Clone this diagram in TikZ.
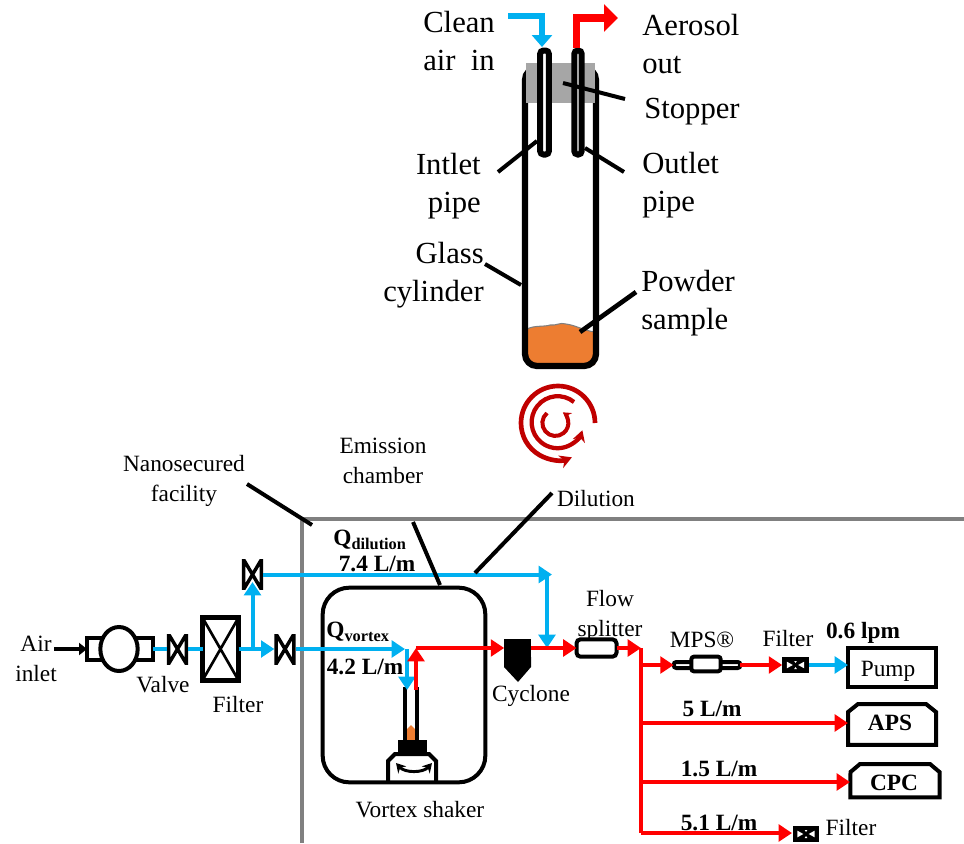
\documentclass[tikz,border=0pt]{standalone}
\usepackage{fontspec}
\setmainfont{Liberation Serif}
\usepackage{tikz}
\usetikzlibrary{arrows.meta,shapes.geometric}
\definecolor{airBlue}{HTML}{00B0F0}
\definecolor{aerosolRed}{HTML}{FF0000}
\definecolor{swirlRed}{HTML}{C00000}
\definecolor{powderOrange}{HTML}{ED7D31}
\definecolor{stopperGray}{HTML}{A6A6A6}
\tikzset{
  biglabel/.style={font=\fontsize{23}{29}\selectfont, align=center, inner sep=0pt},
  smalllabel/.style={font=\fontsize{17.5}{22.5}\selectfont, align=center, inner sep=0pt},
  boldlabel/.style={font=\fontsize{17.5}{22}\selectfont\bfseries, inner sep=0pt},
  leader/.style={draw=black, line width=3pt},
  airflow/.style={draw=airBlue, line width=3pt, -{Triangle[length=10pt,width=12.5pt]}},
  redflow/.style={draw=aerosolRed, line width=3pt, -{Triangle[length=10pt,width=12.5pt]}},
  box/.style={draw, line width=3pt, inner sep=0pt, outer sep=0pt},
  pipebox/.style={box, fill=white, line width=4.5pt, rounded corners=2.5pt, minimum height=78pt},
  valvebox/.style={inner sep=0pt, outer sep=0pt, minimum width=16pt, minimum height=22.5pt,
    path picture={\draw[shift={(path picture bounding box.center)}, line width=2.6pt]
      (-6.7pt,-11.25pt) -- (6.7pt,11.25pt) -- (6.7pt,-11.25pt) -- (-6.7pt,11.25pt) -- cycle;}},
  filterbox/.style={box, line width=3.5pt, minimum width=27pt, minimum height=47pt,
    path picture={\draw[line width=2pt] (path picture bounding box.south west) -- (path picture bounding box.north east)
      (path picture bounding box.north west) -- (path picture bounding box.south east);}},
  smallfilter/.style={fill=black, inner sep=0pt, outer sep=0pt, minimum width=20pt, minimum height=12.5pt,
    path picture={\fill[white, shift={(path picture bounding box.center)}]
      (-6.5pt,-2.5pt) -- (-2pt,0pt) -- (-6.5pt,2.5pt) -- cycle
      (6.5pt,-2.5pt) -- (2pt,0pt) -- (6.5pt,2.5pt) -- cycle
      (-1pt,3pt) -- (1pt,3pt) -- (0pt,1.5pt) -- cycle
      (-1pt,-3pt) -- (1pt,-3pt) -- (0pt,-1.5pt) -- cycle;}},
}

\begin{document}
\begin{tikzpicture}[x=0.75pt, y=-0.75pt]
  \useasboundingbox (0,0) rectangle (964,843);

  % vial, large view
  \fill[powderOrange] (527,329) .. controls (535,325) and (545,327) .. (550,325)
    .. controls (556,326) and (560,322) .. (566,324) .. controls (575,325) and (585,331) .. (595,332)
    -- (595,365) -- (527,365) -- cycle;
  \draw[gray, line width=0.8pt] (527,329) .. controls (535,325) and (545,327) .. (550,325)
    .. controls (556,326) and (560,322) .. (566,324) .. controls (575,325) and (585,331) .. (595,332);
  \draw[line width=4.7pt, rounded corners=9pt] (525,68) rectangle (596,366);
  \fill[stopperGray] (526,63) rectangle (595,103);
  \node[pipebox, minimum width=6.5pt] (inpipe) at (544.5,102.5) {};
  \node[pipebox, minimum width=5.5pt] (outpipe) at (578,102.5) {};

  \coordinate (airstart) at (508,16);
  \coordinate (aircorner) at (542,16);
  \coordinate (pipein) at (542,47);
  \draw[draw=airBlue, line width=4.5pt, -{Triangle[length=9pt,width=15pt]}] (airstart) -- (aircorner) -- (pipein);
  \coordinate (pipeout) at (576.5,48);
  \coordinate (outcorner) at (576.5,18);
  \coordinate (outend) at (618,18);
  \draw[draw=aerosolRed, line width=5.5pt, -{Triangle[length=10.5pt,width=20pt]}] (pipeout) -- (outcorner) -- (outend);

  \node[biglabel, align=left, anchor=west] (cleanair) at (423,41) {Clean\\air\ \ in};
  \node[biglabel, align=left, anchor=west] (aerosol) at (642,44) {Aerosol\\out};
  \node[biglabel] (stopper) at (692,112) {Stopper};
  \node[biglabel, align=right, anchor=east] (inlabel) at (481,186) {Intlet\\pipe};
  \node[biglabel, align=left, anchor=west] (outlabel) at (642,185) {Outlet\\pipe};
  \node[biglabel, align=right, anchor=east] (glass) at (484,275) {Glass\\cylinder};
  \node[biglabel, align=left, anchor=west] (powder) at (641,303) {Powder\\sample};

  \coordinate (stopA) at (563,83);
  \coordinate (stopB) at (625,99);
  \draw[leader] (stopA) -- (stopB);
  \coordinate (inA) at (537,141);
  \coordinate (inB) at (498,172);
  \draw[leader] (inA) -- (inB);
  \coordinate (outA) at (585,148);
  \coordinate (outB) at (624,172);
  \draw[leader] (outA) -- (outB);
  \coordinate (glassA) at (485,264);
  \coordinate (glassB) at (521,285);
  \draw[leader] (glassA) -- (glassB);
  \coordinate (powderA) at (636,292);
  \coordinate (powderB) at (580,332);
  \draw[leader, line width=3.5pt] (powderA) -- (powderB);

  % swirl
  \draw[swirlRed, line width=3.5pt, -{Stealth[length=9pt,width=10pt]}] (595,423) arc (0:-292:37);
  \draw[swirlRed, line width=3.2pt, -{Stealth[length=8.5pt,width=9.5pt]}] (574,402) arc (-51:-342:26);
  \draw[swirlRed, line width=3pt, -{Stealth[length=6pt,width=7pt]}] (547,413) arc (-130:-415:13);

  % facility outline
  \coordinate (wallBottom) at (302,843);
  \coordinate (wallCorner) at (302,519);
  \coordinate (wallEnd) at (964,519);
  \draw[gray, line width=2.5pt] (wallBottom) -- (wallCorner) -- (wallEnd);

  % bench components
  \node[box, minimum width=49.5pt, minimum height=17pt] (blowerbody) at (120,649) {};
  \node[box, ellipse, fill=white, minimum width=28pt, minimum height=33pt] (blower) at (119,649) {};
  \node[valvebox] (valveA) at (177.5,649) {};
  \node[filterbox] (mainfilter) at (220.5,649) {};
  \node[valvebox] (valveB) at (252.5,574.5) {};
  \node[valvebox] (valveC) at (285,649) {};
  \node[box, rounded corners=20pt, minimum width=122pt, minimum height=146pt] (chamber) at (404,685) {};
  \node[fill=black, inner sep=0pt, outer sep=0pt, minimum width=20pt, minimum height=13.5pt] (cyclone) at (517.5,648) {};
  \fill (504,657) -- (504,667) -- (518,682) -- (531,667) -- (531,657) -- cycle;
  \node[box, rounded corners=3pt, minimum width=30pt, minimum height=13pt] (splitter) at (596.5,648) {};
  \node[box, fill=white, rounded corners=2pt, line width=3pt, minimum width=50pt, minimum height=4.5pt] (mpstube) at (707,665) {};
  \node[box, fill=white, rounded corners=2pt, minimum width=22pt, minimum height=11pt,
    path picture={\fill[shift={(path picture bounding box.center)}] (-2pt,-6pt) rectangle (2pt,-1.5pt) (-2pt,1.5pt) rectangle (2pt,6pt);}] (mpsbody) at (706,664) {};
  \node[smallfilter] (pumpfilter) at (795.5,665) {};
  \node[box, minimum width=66pt, minimum height=29pt] (pump) at (892,667.5) {};
  \node[smallfilter] (endfilter) at (806,834) {};
  \node[inner sep=0pt, outer sep=0pt, minimum width=66pt, minimum height=32pt] (aps) at (892,723.5) {};
  \draw[line width=3pt] (aps.south west) -- (848,712) -- (858,704) -- (926,704) -- (936,712) -- (aps.south east) -- cycle;
  \node[inner sep=0pt, outer sep=0pt, minimum width=67pt, minimum height=26pt] (cpc) at (895,780) {};
  \draw[line width=3pt] (cpc.south west) -- (850.5,772) -- (860,764) -- (930,764) -- (939.5,772) -- (cpc.south east) -- cycle;

  % small vial on the shaker
  \fill[powderOrange] (407,740) -- (407,729) -- (411,725) -- (415,729) -- (415,740) -- cycle;
  \draw[line width=2.3pt] (405,742) -- (405,687) (417,687) -- (417,742);
  \fill (398,740) rectangle (427,753);
  \draw[line width=3pt] (388,783) -- (388,761) -- (395,754) -- (429,754) -- (436,761) -- (436,783);
  \draw[line width=2.2pt, {Stealth[length=7pt,width=8pt]}-{Stealth[length=7pt,width=8pt]}] (396,763) .. controls (405,773) and (423,773) .. (432,763);

  % junctions
  \coordinate (teeA) at (252.5,649);
  \coordinate (valveBtip) at (252.5,582);
  \coordinate (vortexTee) at (407,649);
  \coordinate (vialIn) at (407,690);
  \coordinate (vialOut) at (416,690);
  \coordinate (redCorner) at (416,648);
  \coordinate (diluteCorner) at (547,574.5);
  \coordinate (diluteIn) at (547,648);
  \coordinate (manifoldTop) at (641,648);
  \coordinate (branchA) at (641,665);
  \coordinate (branchB) at (641,723);
  \coordinate (branchC) at (641,782);
  \coordinate (branchD) at (641,833);
  \coordinate (apsIn) at (848,723);
  \coordinate (cpcIn) at (850,782);
  \coordinate (diluteTip) at (552,574.5);
  \coordinate (vortexTip) at (405,649);
  \coordinate (airin) at (54,649);
  \coordinate (endIn) at (792,833);

  % flows
  \draw[black, line width=3pt, -{Triangle[length=6pt,width=9pt]}] (airin) -- (blowerbody.west);
  \draw[draw=airBlue, line width=3pt] (blowerbody.east) -- (valveA.west);
  \draw[draw=airBlue, line width=3pt] (valveA.east) -- (mainfilter.west);
  \draw[airflow] (mainfilter.east) -- (valveC.west);
  \draw[airflow] (teeA) -- (valveBtip);
  \draw[airflow] (valveB.east) -- (diluteTip);
  \draw[airflow] (diluteCorner) -- (diluteIn);
  \draw[airflow] (valveC.east) -- (vortexTip);
  \draw[airflow] (vortexTee) -- (vialIn);
  \draw[redflow] (vialOut) -- (redCorner);
  \draw[redflow] (redCorner) -- (cyclone.west);
  \draw[redflow] (cyclone.east) -- (splitter.west);
  \draw[redflow] (splitter.east) -- (manifoldTop);
  \draw[draw=aerosolRed, line width=3pt] (manifoldTop) -- (branchD);
  \draw[redflow] (branchA) -- (mpstube.west);
  \draw[redflow] (mpstube.east) -- (pumpfilter.west);
  \draw[airflow] (pumpfilter.east) -- (pump.west |- pumpfilter.east);
  \draw[redflow] (branchB) -- (apsIn);
  \draw[redflow] (branchC) -- (cpcIn);
  \draw[redflow] (branchD) -- (endIn);

  % bench labels
  \node[smalllabel] (nanolabel) at (184,481) {Nanosecured\\facility};
  \node[smalllabel] (emission) at (383,461) {Emission\\chamber};
  \node[smalllabel] (dilution) at (596,499) {Dilution};
  \node[boldlabel] (qdilution) at (370,540) {Q\textsubscript{dilution}};
  \node[boldlabel] (rateA) at (377,564) {7.4 L/m};
  \node[boldlabel] (qvortex) at (358,632) {Q\textsubscript{vortex}};
  \node[boldlabel] (rateB) at (365,667) {4.2 L/m};
  \node[smalllabel] (airlabel) at (36,659) {Air\\inlet};
  \node[smalllabel] (valvelabel) at (163,685) {Valve};
  \node[smalllabel] (filterlabel) at (238,705) {Filter};
  \node[smalllabel] (cyclonelabel) at (531,696) {Cyclone};
  \node[smalllabel] (splitlabel) at (610,616) {Flow\\splitter};
  \node[smalllabel] (mpslabel) at (702,640) {MPS®};
  \node[smalllabel] (filterB) at (788,639) {Filter};
  \node[boldlabel] (rateC) at (863,633) {0.6 lpm};
  \node[smalllabel] (pumplabel) at (888,671) {Pump};
  \node[boldlabel] (apslabel) at (890,723) {APS};
  \node[boldlabel] (cpclabel) at (894,783) {CPC};
  \node[boldlabel] (rateD) at (712,709) {5 L/m};
  \node[boldlabel] (rateE) at (719,769) {1.5 L/m};
  \node[boldlabel] (rateF) at (719,823) {5.1 L/m};
  \node[smalllabel] (filterC) at (851,828) {Filter};
  \node[smalllabel] (shakerlabel) at (420,810) {Vortex shaker};

  \coordinate (nanoA) at (247,484);
  \coordinate (nanoB) at (312,525);
  \draw[leader] (nanoA) -- (nanoB);
  \coordinate (emitA) at (413,522);
  \coordinate (emitB) at (440,585);
  \draw[leader] (emitA) -- (emitB);
  \coordinate (diluteA) at (552,493);
  \coordinate (diluteB) at (475,573);
  \draw[leader] (diluteA) -- (diluteB);
\end{tikzpicture}
\end{document}
